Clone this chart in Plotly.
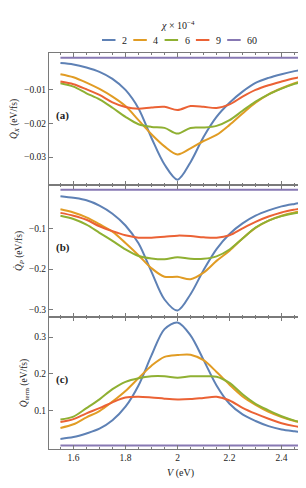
import plotly.graph_objects as go
from plotly.subplots import make_subplots

# ---------------- data ----------------
V = [1.55, 1.60, 1.65, 1.70, 1.75, 1.80, 1.85, 1.90, 1.95, 2.00,
     2.05, 2.10, 2.15, 2.20, 2.25, 2.30, 2.35, 2.40, 2.45, 2.50]

chi_labels = ["2", "4", "6", "9", "60"]
colors = ["#5E81B5", "#E19C24", "#8FB032", "#EB6235", "#8778B3"]

# panel (a): Q_X (eV/fs)
qx_2 = [-0.0020, -0.0024, -0.0033, -0.0046, -0.0067, -0.0100, -0.0155, -0.0243, -0.0322, -0.0367,
        -0.0315, -0.0240, -0.0180, -0.0138, -0.0105, -0.0079, -0.0064, -0.0053, -0.0044, -0.0037]
qx_4 = [-0.0053, -0.0062, -0.0078, -0.0097, -0.0120, -0.0148, -0.0190, -0.0232, -0.0268, -0.0292,
        -0.0274, -0.0252, -0.0234, -0.0204, -0.0170, -0.0138, -0.0113, -0.0095, -0.0080, -0.0067]
qx_6 = [-0.0080, -0.0090, -0.0110, -0.0128, -0.0153, -0.0180, -0.0202, -0.0210, -0.0213, -0.0230,
        -0.0213, -0.0212, -0.0207, -0.0190, -0.0162, -0.0135, -0.0113, -0.0096, -0.0082, -0.0071]
qx_9 = [-0.0075, -0.0083, -0.0098, -0.0115, -0.0137, -0.0151, -0.0156, -0.0152, -0.0150, -0.0160,
        -0.0148, -0.0150, -0.0154, -0.0143, -0.0120, -0.0100, -0.0086, -0.0075, -0.0065, -0.0057]
qx_60 = [-0.0004] * 20

# panel (b): Q_P (eV/fs)
qp_2 = [-0.021, -0.025, -0.031, -0.044, -0.064, -0.093, -0.137, -0.207, -0.275, -0.302,
        -0.262, -0.203, -0.151, -0.114, -0.088, -0.069, -0.056, -0.046, -0.040, -0.035]
qp_4 = [-0.053, -0.061, -0.073, -0.090, -0.108, -0.136, -0.166, -0.198, -0.219, -0.219,
        -0.225, -0.209, -0.180, -0.155, -0.125, -0.099, -0.081, -0.069, -0.061, -0.056]
qp_6 = [-0.069, -0.077, -0.091, -0.111, -0.131, -0.152, -0.168, -0.174, -0.176, -0.171,
        -0.175, -0.175, -0.169, -0.152, -0.125, -0.098, -0.081, -0.070, -0.063, -0.058]
qp_9 = [-0.062, -0.069, -0.079, -0.095, -0.107, -0.117, -0.123, -0.123, -0.121, -0.118,
        -0.119, -0.122, -0.123, -0.117, -0.100, -0.084, -0.071, -0.061, -0.054, -0.048]
qp_60 = [-0.005] * 20

# panel (c): Q_term (eV/fs)
qt_2 = [0.022, 0.027, 0.037, 0.050, 0.073, 0.110, 0.168, 0.250, 0.322, 0.340,
        0.305, 0.238, 0.168, 0.118, 0.089, 0.071, 0.057, 0.048, 0.043, 0.039]
qt_4 = [0.052, 0.062, 0.081, 0.098, 0.124, 0.153, 0.188, 0.222, 0.246, 0.251,
        0.252, 0.237, 0.205, 0.170, 0.138, 0.115, 0.096, 0.082, 0.071, 0.063]
qt_6 = [0.075, 0.083, 0.106, 0.130, 0.158, 0.178, 0.188, 0.193, 0.193, 0.189,
        0.193, 0.193, 0.192, 0.175, 0.144, 0.118, 0.100, 0.084, 0.072, 0.064]
qt_9 = [0.068, 0.076, 0.092, 0.106, 0.122, 0.135, 0.137, 0.135, 0.132, 0.130,
        0.131, 0.134, 0.137, 0.127, 0.107, 0.091, 0.077, 0.065, 0.057, 0.052]
qt_60 = [0.004] * 20

panels = [
    [qx_2, qx_4, qx_6, qx_9, qx_60],
    [qp_2, qp_4, qp_6, qp_9, qp_60],
    [qt_2, qt_4, qt_6, qt_9, qt_60],
]
panel_tags = ["(a)", "(b)", "(c)"]
y_titles = ["<i>Q̇</i><sub><i>X</i></sub> (eV/fs)",
            "<i>Q̇</i><sub><i>P</i></sub> (eV/fs)",
            "<i>Q̇</i><sub>term</sub> (eV/fs)"]
y_ranges = [[-0.0383, 0.0010], [-0.318, 0.0065], [-0.0055, 0.355]]
y_ticks = [[-0.01, -0.02, -0.03], [-0.1, -0.2, -0.3], [0.1, 0.2, 0.3]]
x_ticks = [1.6, 1.8, 2.0, 2.2, 2.4]
x_range = [1.506, 2.517]

# ---------------- figure ----------------
W, H = 306, 488
ML, MR, MT, MB = 41, 2, 45, 47
PW, PH = W - ML - MR, H - MT - MB

fig = make_subplots(rows=3, cols=1, shared_xaxes=True, vertical_spacing=0)

FONT = "Liberation Serif"
frame = "#7a7a7a"

for r, series in enumerate(panels, start=1):
    for i, ys in enumerate(series):
        fig.add_trace(go.Scatter(
            x=V, y=ys, mode="lines", name=chi_labels[i],
            line=dict(color=colors[i], width=2, shape="spline", smoothing=0.9),
            showlegend=False), row=r, col=1)
    fig.update_yaxes(range=y_ranges[r - 1], tickvals=y_ticks[r - 1],
                     title=dict(text=y_titles[r - 1], standoff=4,
                                font=dict(family=FONT, size=9.5, color="#222")),
                     row=r, col=1)
    fig.update_xaxes(range=x_range, tickvals=x_ticks, row=r, col=1,
                     showticklabels=(r == 3))

common = dict(showgrid=False, zeroline=False, showline=True, linecolor=frame,
              linewidth=1, mirror="ticks", ticks="inside", ticklen=4,
              tickcolor=frame, tickwidth=1,
              tickfont=dict(family=FONT, size=9.5, color="#222"))
fig.update_xaxes(**common, minor=dict(dtick=0.05, ticks="inside", ticklen=2,
                                      tickcolor=frame, showgrid=False))
fig.update_yaxes(**common)
fig.update_xaxes(title=dict(text="<i>V</i> (eV)", standoff=6,
                            font=dict(family=FONT, size=10, color="#222")), row=3, col=1)

annotations = []
# panel tags
for r, tag in enumerate(panel_tags):
    dom_top = 1 - r / 3
    annotations.append(dict(text="<b>" + tag + "</b>", xref="paper", yref="paper",
                            x=(46 - ML) / PW, y=dom_top - 0.5 / 3 + 0.01,
                            xanchor="left", yanchor="middle", showarrow=False,
                            font=dict(family=FONT, size=11, color="#222")))

# custom compact legend
def px_x(p):
    return (p - ML) / PW

def px_y(p):
    return (H - MB - p) / PH

annotations.append(dict(text="<i>χ</i> × 10<sup>−4</sup>", xref="paper", yref="paper",
                        x=px_x(170), y=px_y(17), xanchor="center", yanchor="middle",
                        showarrow=False, font=dict(family=FONT, size=10, color="#222")))
shapes = []
for i, (lab, col) in enumerate(zip(chi_labels, colors)):
    x0 = 94 + i * 31.3
    shapes.append(dict(type="line", xref="paper", yref="paper",
                       x0=px_x(x0), x1=px_x(x0 + 13.5), y0=px_y(32), y1=px_y(32),
                       line=dict(color=col, width=2)))
    annotations.append(dict(text=lab, xref="paper", yref="paper",
                            x=px_x(x0 + 18), y=px_y(32.5), xanchor="left", yanchor="middle",
                            showarrow=False, font=dict(family=FONT, size=10, color="#222")))

fig.update_layout(width=W, height=H, margin=dict(l=ML, r=MR, t=MT, b=MB),
                  paper_bgcolor="white", plot_bgcolor="white",
                  annotations=annotations, shapes=shapes, showlegend=False)

fig.write_html("out.html")
